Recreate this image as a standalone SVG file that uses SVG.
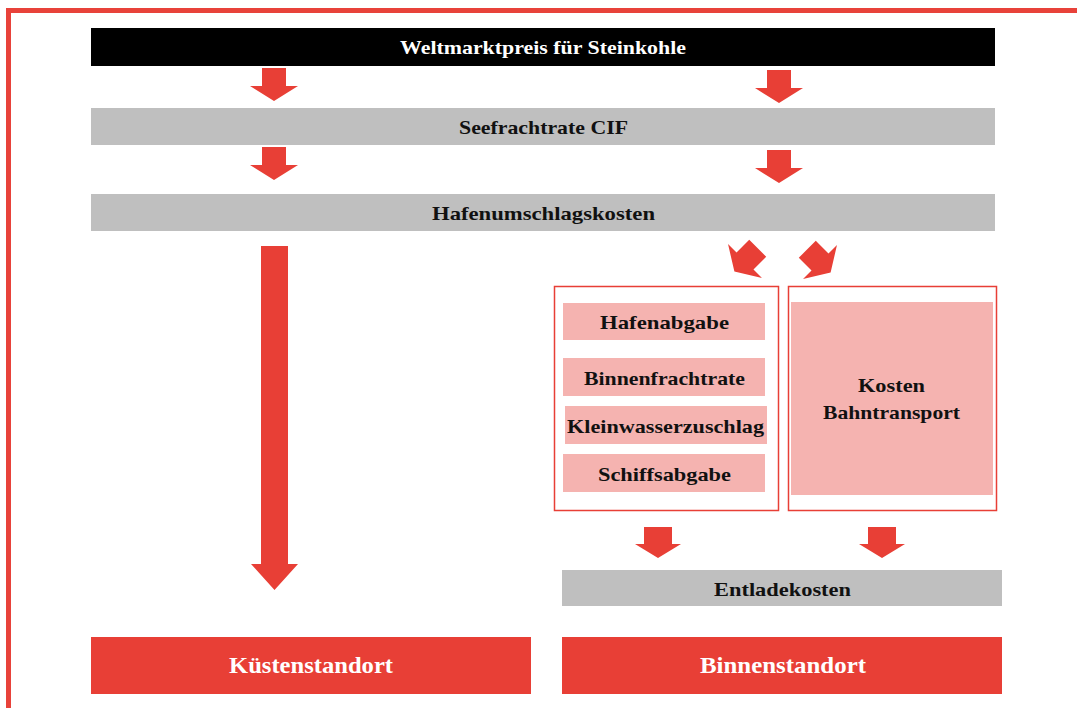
<svg xmlns="http://www.w3.org/2000/svg" width="1077" height="708" viewBox="0 0 1077 708">
<style>
.t{font-family:"Liberation Serif","Times New Roman",serif;font-weight:bold;font-size:19px;text-anchor:middle;fill:#111}
.w{fill:#fff}
.big{font-size:23px}
.bar{fill:#bfbfbf}
.pink{fill:#f5b3b0}
.red{fill:#e83f36}
.cont{fill:#fff;stroke:#e83f36;stroke-width:1.5}
.arr{fill:#e83f36}
</style>
<defs>
<path id="arrow" d="M-12,-18 H12 V0 H24 L0,15 L-24,0 H-12 Z"/>
<path id="arrowB" d="M-14,-17 H14 V0 H23 L0,14 L-23,0 H-14 Z"/>
</defs>
<rect width="1077" height="708" fill="#fff"/>
<path d="M8.5,708 V10.5 H1077" fill="none" stroke="#e8423a" stroke-width="5"/>

<g id="weltmarktpreis">
<rect x="91" y="28" width="904" height="38" fill="#000"/>
<text class="t w" x="543" y="54" textLength="286" lengthAdjust="spacingAndGlyphs">Weltmarktpreis für Steinkohle</text>
</g>
<g id="seefrachtrate">
<rect class="bar" x="91" y="108" width="904" height="37"/>
<text class="t" x="543.5" y="134" textLength="169" lengthAdjust="spacingAndGlyphs">Seefrachtrate CIF</text>
</g>
<g id="hafenumschlagskosten">
<rect class="bar" x="91" y="194" width="904" height="37"/>
<text class="t" x="543.5" y="220" textLength="223" lengthAdjust="spacingAndGlyphs">Hafenumschlagskosten</text>
</g>
<g id="binnenschiff">
<rect class="cont" x="554.5" y="286.5" width="224" height="224"/>
<rect class="pink" x="563" y="303" width="202" height="37"/>
<text class="t" x="664.5" y="329" textLength="129" lengthAdjust="spacingAndGlyphs">Hafenabgabe</text>
<rect class="pink" x="563" y="358" width="202" height="38"/>
<text class="t" x="664.5" y="385" textLength="161" lengthAdjust="spacingAndGlyphs">Binnenfrachtrate</text>
<rect class="pink" x="565" y="406" width="202" height="38"/>
<text class="t" x="665.5" y="433" textLength="197" lengthAdjust="spacingAndGlyphs">Kleinwasserzuschlag</text>
<rect class="pink" x="563" y="454" width="202" height="38"/>
<text class="t" x="664.5" y="481" textLength="133" lengthAdjust="spacingAndGlyphs">Schiffsabgabe</text>
</g>
<g id="bahn">
<rect class="cont" x="788.5" y="286.5" width="208" height="224"/>
<rect class="pink" x="791" y="302" width="202" height="193"/>
<text class="t" x="891.5" y="392" textLength="67" lengthAdjust="spacingAndGlyphs">Kosten</text>
<text class="t" x="891.5" y="419" textLength="137" lengthAdjust="spacingAndGlyphs">Bahntransport</text>
</g>
<g id="entladekosten">
<rect class="bar" x="562" y="570" width="440" height="36"/>
<text class="t" x="782.5" y="596" textLength="137" lengthAdjust="spacingAndGlyphs">Entladekosten</text>
</g>
<g id="kuestenstandort">
<rect class="red" x="91" y="637" width="440" height="57"/>
<text class="t w big" x="311" y="673" textLength="164" lengthAdjust="spacingAndGlyphs">Küstenstandort</text>
</g>
<g id="binnenstandort">
<rect class="red" x="562" y="637" width="440" height="57"/>
<text class="t w big" x="783" y="673" textLength="166" lengthAdjust="spacingAndGlyphs">Binnenstandort</text>
</g>

<g id="connectors" class="arr">
<use href="#arrow" transform="translate(274,86)"/>
<use href="#arrow" transform="translate(779,88)"/>
<use href="#arrow" transform="translate(274,165)"/>
<use href="#arrow" transform="translate(779,168)"/>
<path d="M261,246 H288 V564 H298 L274.5,590 L251,564 H261 Z"/>
<use href="#arrow" transform="translate(745,261) rotate(45)"/>
<use href="#arrow" transform="translate(820,262) rotate(-45)"/>
<use href="#arrowB" transform="translate(658,544)"/>
<use href="#arrowB" transform="translate(882,544)"/>
</g>
</svg>
